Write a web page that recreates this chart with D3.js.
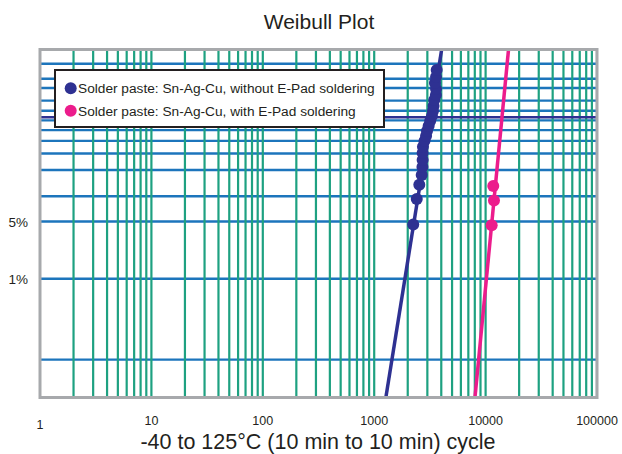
<!DOCTYPE html>
<html>
<head>
<meta charset="utf-8">
<script src="https://cdn.jsdelivr.net/npm/d3@7"></script>
<style>
  body { margin: 0; background: #fff; }
  text { font-family: "Liberation Sans", Arial, sans-serif; fill: #231f20; }
</style>
</head>
<body>
<div id="chart"></div>
<script>
var MARGIN = {TOP: 49.5, RIGHT: 25, BOTTOM: 56.5, LEFT: 40},
    WIDTH = 622 - MARGIN.LEFT - MARGIN.RIGHT,
    HEIGHT = 454 - MARGIN.TOP - MARGIN.BOTTOM;

// x axis: cycles, log scale
var x_domain = [1, 100000]
var x_tick_labels = ["1", "10", "100", "1000", "10000", "100000"]
var x_tick_values = [1, 10, 100, 1000, 10000, 100000]

// y axis: cumulative failure in %, weibull paper
var y_domain = [0.034, 99.9]
var y_grid = [0.1, 1, 5, 10, 20, 30, 40, 50, 60, 70, 80, 90, 95, 99]
var y_char_life = 63.2
var y_tick_values = [5, 1]
var y_tick_labels = ["5%", "1%"]

// series: without E-Pad soldering
var without_cycles = [2240, 2410, 2540, 2670, 2710, 2720, 2720, 2740, 2830, 2920, 2980,
                      3080, 3180, 3300, 3370, 3410, 3460, 3580, 3590, 3510, 3590, 3640]
var without_fail = [4.6, 9.3, 13.6, 17.6, 21.6, 25.7, 30.4, 35.0, 40.0, 44.5, 49.2,
                    54.3, 59.4, 64.6, 69.8, 74.9, 80.6, 84.9, 89.4, 93.0, 95.7, 97.9]
// series: with E-Pad soldering
var with_cycles = [11340, 11890, 11720]
var with_fail = [4.5, 8.9, 13.2]

// weibull fit lines (shape beta, scale eta)
var fit_beta = [8.6, 14.3]
var fit_eta = [3221, 14030]

var series_names = ["Solder paste: Sn-Ag-Cu, without E-Pad soldering",
                    "Solder paste: Sn-Ag-Cu, with E-Pad soldering"]
var series_colors = ["#2e3192", "#ec1c8c"]

function wb(p) { return Math.log(-Math.log(1 - p/100)) }

const svg_root = d3.select("#chart").append("svg")
  .attr("width", 622)
  .attr("height", 454)

const svg = svg_root.append("g")
  .attr("transform", `translate(${MARGIN.LEFT}, ${MARGIN.TOP})`)

var x = d3.scaleLog()
  .domain(x_domain)
  .range([0, WIDTH])

var y = d3.scaleLinear()
  .domain([wb(y_domain[0]), wb(y_domain[1])])
  .range([HEIGHT, 0])

svg.append("clipPath").attr("id", "clip")
  .append("rect").attr("width", WIDTH).attr("height", HEIGHT)

var plot = svg.append("g").attr("clip-path", "url(#clip)")

// horizontal grid (blue)
plot.selectAll(".hgrid")
  .data(y_grid)
  .enter().append("line")
  .attr("class", "hgrid")
  .attr("x1", 0)
  .attr("x2", WIDTH)
  .attr("y1", d => y(wb(d)))
  .attr("y2", d => y(wb(d)))
  .attr("stroke", "#1c75bc")
  .attr("stroke-width", 2.4)

// vertical grid (green) at 2..10 of every decade
var x_grid = []
d3.range(0, 5).forEach(function(dec) {
  d3.range(2, 11).forEach(function(k) { x_grid.push(k * Math.pow(10, dec)) })
})

plot.selectAll(".vgrid")
  .data(x_grid)
  .enter().append("line")
  .attr("class", "vgrid")
  .attr("x1", d => x(d))
  .attr("x2", d => x(d))
  .attr("y1", 0)
  .attr("y2", HEIGHT)
  .attr("stroke", "#1ea181")
  .attr("stroke-width", 2.2)

// characteristic life line
plot.append("line")
  .attr("x1", 0)
  .attr("x2", WIDTH)
  .attr("y1", y(wb(y_char_life)))
  .attr("y2", y(wb(y_char_life)))
  .attr("stroke", "#2e3192")
  .attr("stroke-width", 2.4)

// fit lines
var line = d3.line().x(d => x(d[0])).y(d => y(wb(d[1])))
fit_beta.forEach(function(beta, i) {
  var pts = y_domain.map(function(p) {
    return [fit_eta[i] * Math.pow(-Math.log(1 - p/100), 1/beta), p]
  })
  plot.append("path")
    .datum(pts)
    .attr("d", line)
    .attr("fill", "none")
    .attr("stroke", series_colors[i])
    .attr("stroke-width", 3.5)
})

// data points
var series_data = [
  d3.zip(without_cycles, without_fail),
  d3.zip(with_cycles, with_fail)
]
series_data.forEach(function(data, i) {
  plot.selectAll(".pt" + i)
    .data(data)
    .enter().append("circle")
    .attr("class", "pt" + i)
    .attr("cx", d => x(d[0]))
    .attr("cy", d => y(wb(d[1])))
    .attr("r", 6)
    .attr("fill", series_colors[i])
})

// frame
svg.append("rect")
  .attr("width", WIDTH)
  .attr("height", HEIGHT)
  .attr("fill", "none")
  .attr("stroke", "#a7a9ac")
  .attr("stroke-width", 3)

// x tick labels
svg.selectAll(".xlab")
  .data(x_tick_values)
  .enter().append("text")
  .attr("class", "xlab")
  .attr("x", d => x(d))
  .attr("y", d => HEIGHT + (d == 1 ? 31 : 27))
  .attr("text-anchor", "middle")
  .style("font-size", "12.5px")
  .text((d, i) => x_tick_labels[i])

// y tick labels
svg.selectAll(".ylab")
  .data(y_tick_values)
  .enter().append("text")
  .attr("class", "ylab")
  .attr("x", -12)
  .attr("y", d => y(wb(d)) + 5)
  .attr("text-anchor", "end")
  .style("font-size", "13.5px")
  .text((d, i) => y_tick_labels[i])

// title and axis title
svg_root.append("text")
  .attr("x", 319)
  .attr("y", 29)
  .attr("text-anchor", "middle")
  .style("font-size", "21px")
  .text("Weibull Plot")

svg_root.append("text")
  .attr("x", 318)
  .attr("y", 449)
  .attr("text-anchor", "middle")
  .style("font-size", "21.5px")
  .text("-40 to 125°C (10 min to 10 min) cycle")

// legend
var legend = svg_root.append("g").attr("transform", "translate(55, 70)")
legend.append("rect")
  .attr("width", 329)
  .attr("height", 57)
  .attr("fill", "#fff")
  .attr("stroke", "#231f20")
  .attr("stroke-width", 2)

series_names.forEach(function(name, i) {
  legend.append("circle")
    .attr("cx", 15.7)
    .attr("cy", 18.3 + i * 22.4)
    .attr("r", 6)
    .attr("fill", series_colors[i])
  legend.append("text")
    .attr("x", 23)
    .attr("y", 18.3 + i * 22.4 + 5)
    .style("font-size", "13.7px")
    .text(name)
})
</script>
</body>
</html>
